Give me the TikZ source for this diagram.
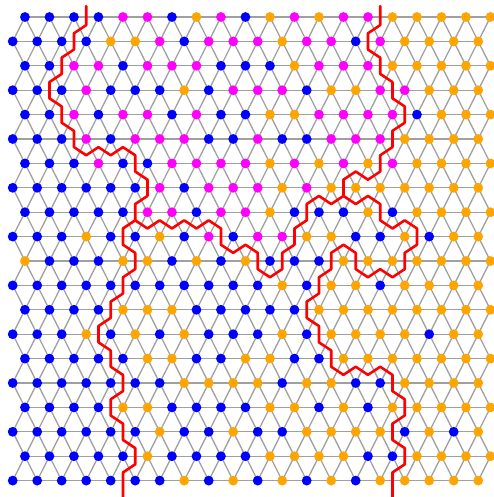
\documentclass[tikz,border=0pt]{standalone}
\definecolor{lattice}{RGB}{160,160,160}
\definecolor{wall}{RGB}{255,0,0}
\definecolor{state0}{RGB}{0,0,255}
\definecolor{state1}{RGB}{255,165,0}
\definecolor{state2}{RGB}{255,0,255}
\tikzset{
  site/.style={circle,inner sep=0pt,minimum size=9.8pt,draw=none},
  bond/.style={lattice,line width=1.3pt},
  domainwall/.style={wall,line width=2.6pt}
}

\begin{document}
\begin{tikzpicture}[x=12.25pt,y=-8.1333pt,line cap=round,line join=round]
\useasboundingbox (-1.0367,-2.0902) rectangle (39.2082,59.0165);
% lattice points: row r at t=3r, even rows shifted by half a step
\foreach \r in {0,...,19}
  \foreach \i in {0,...,19} {
    \pgfmathtruncatemacro\u{2*\i+1-mod(\r,2)}
    \coordinate (s\r-\i) at (\u,3*\r);
  }
% bonds: one line along each row, two between neighbouring rows
\foreach \r in {0,...,19} {
  \draw[bond] (s\r-0) -- (s\r-19);
}
\foreach \r [evaluate=\r as \q using int(\r+1)] in {0,...,18} {
  \foreach \i in {0,...,19} {
    \draw[bond] (s\r-\i) -- (s\q-\i);
  }
  \foreach \i [evaluate=\i as \j using int(\i+1)] in {0,...,18} {
    \ifodd\r
      \draw[bond] (s\r-\j) -- (s\q-\i);
    \else
      \draw[bond] (s\r-\i) -- (s\q-\j);
    \fi
  }
}
% sites
\foreach \r/\states in {
  0/{0,0,0,0,2,2,0,1,2,0,1,2,1,2,2,1,1,1,1,1},
  1/{0,0,0,0,1,1,2,0,2,2,2,1,2,2,0,2,1,1,1,1},
  2/{0,0,2,2,0,2,2,2,0,0,0,1,2,2,2,1,1,1,1,1},
  3/{0,0,0,2,0,0,0,1,0,2,2,2,0,1,1,2,2,1,1,1},
  4/{0,0,2,0,2,2,0,2,0,0,1,1,2,2,2,2,0,1,1,1},
  5/{0,0,0,2,0,2,2,2,0,0,2,0,0,2,2,2,1,1,1,1},
  6/{0,0,0,2,0,0,2,2,2,2,1,2,1,2,1,2,1,1,1,1},
  7/{0,0,0,0,0,0,2,0,2,2,2,1,2,1,1,1,1,1,1,1},
  8/{0,0,0,0,0,2,2,0,2,2,1,0,0,0,1,0,1,1,1,1},
  9/{0,0,0,1,0,0,1,0,2,0,2,2,1,1,0,0,1,0,1,1},
  10/{1,0,0,0,1,1,0,1,0,1,0,0,0,1,1,1,1,1,1,1},
  11/{0,0,0,0,0,0,0,0,0,0,0,1,0,1,1,0,1,1,1,1},
  12/{0,0,0,0,1,1,1,0,0,0,0,0,1,1,1,1,1,1,1,1},
  13/{0,0,0,1,0,1,0,1,0,0,0,1,0,1,1,1,1,0,1,1},
  14/{0,0,0,0,0,1,1,0,0,1,1,0,0,1,1,1,1,1,1,1},
  15/{0,0,0,0,0,0,0,1,1,1,1,0,1,1,0,0,1,1,1,1},
  16/{0,0,0,0,1,1,0,0,0,0,1,1,0,1,0,1,1,1,1,1},
  17/{0,0,0,0,0,0,1,0,0,1,0,0,1,1,1,1,0,1,0,1},
  18/{0,0,0,0,0,1,0,0,0,0,1,1,1,1,0,0,1,1,1,1},
  19/{0,0,0,0,0,0,0,1,0,1,0,1,0,1,0,1,1,1,1,1}}
  \foreach \c [count=\i from 0] in \states
    \node[site,fill=state\c] (v\r-\i) at (s\r-\i) {};
% domain walls on the dual lattice
\coordinate (jA) at (10,25);
\coordinate (jB) at (27,22);
\draw[domainwall] (6,-1.35) -- (6,1) -- (5,2) -- (5,4) -- (4,5) -- (4,7) -- (3,8) -- (3,10)
  -- (4,11) -- (4,13) -- (5,14) -- (5,16) -- (6,17) -- (7,16) -- (8,17) -- (9,16) -- (10,17)
  -- (10,19) -- (11,20) -- (11,22) -- (10,23) -- (jA) -- (9,26) -- (9,28) -- (10,29) -- (10,31)
  -- (9,32) -- (9,34) -- (8,35) -- (8,37) -- (7,38) -- (7,40) -- (8,41) -- (8,43) -- (9,44)
  -- (9,46) -- (8,47) -- (8,49) -- (9,50) -- (9,52) -- (10,53) -- (10,55) -- (9,56) -- (9,59.1);
\draw[domainwall] (jA) -- (11,26) -- (12,25) -- (13,26) -- (14,25) -- (15,26) -- (16,25) -- (17,26)
  -- (17,28) -- (18,29) -- (19,28) -- (20,29) -- (20,31) -- (21,32) -- (22,31) -- (22,29)
  -- (23,28) -- (23,26) -- (24,25) -- (24,23) -- (25,22) -- (26,23) -- (jB);
\draw[domainwall] (30,-1.35) -- (30,1) -- (29,2) -- (29,4) -- (30,5) -- (30,7) -- (31,8) -- (31,10)
  -- (32,11) -- (32,13) -- (31,14) -- (31,16) -- (30,17) -- (30,19) -- (29,20) -- (28,19) -- (27,20)
  -- (jB) -- (28,23) -- (29,22) -- (30,23) -- (30,25) -- (31,26) -- (32,25) -- (33,26) -- (33,28)
  -- (32,29) -- (32,31) -- (31,32) -- (30,31) -- (29,32) -- (28,31) -- (28,29) -- (27,28) -- (26,29)
  -- (26,31) -- (25,32) -- (25,34) -- (24,35) -- (24,37) -- (25,38) -- (25,40) -- (26,41) -- (26,43)
  -- (27,44) -- (28,43) -- (29,44) -- (30,43) -- (31,44) -- (31,46) -- (32,47) -- (32,49) -- (31,50)
  -- (31,52) -- (32,53) -- (32,55) -- (31,56) -- (31,59.1);
\end{tikzpicture}
\end{document}
